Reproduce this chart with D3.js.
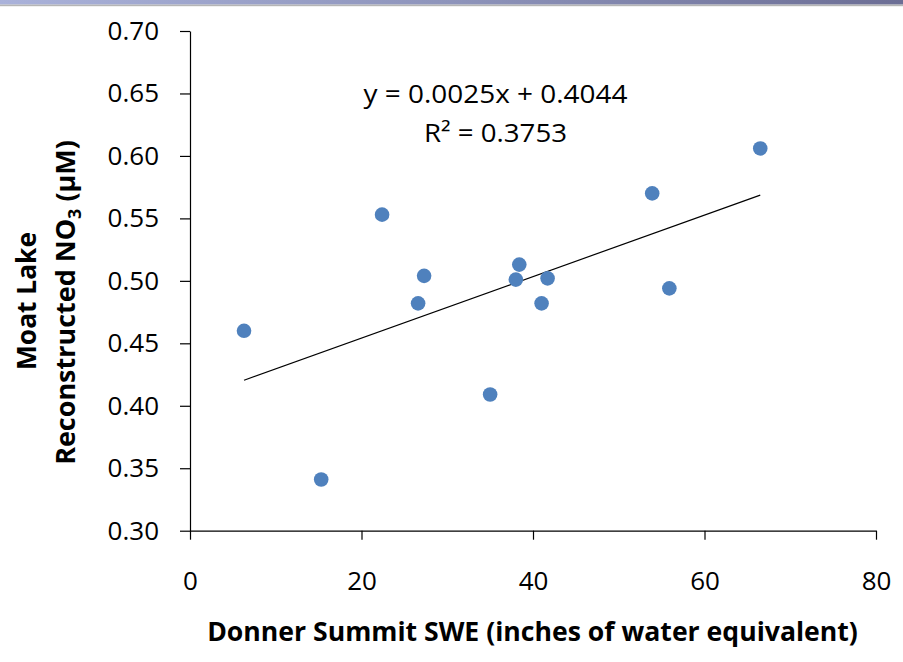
<!DOCTYPE html>
<html>
<head>
<meta charset="utf-8">
<script src="https://cdn.jsdelivr.net/npm/d3@7"></script>
<style>
  html, body { margin: 0; padding: 0; background: #fff; }
  svg { display: block; }
</style>
</head>
<body>
<svg id="chart" width="903" height="662"></svg>
<script>
// ---- data ----
const sweValues = [6.3, 15.3, 22.4, 27.3, 26.6, 35.0, 38.0, 38.4, 41.0, 41.7, 53.9, 55.9, 66.5];
const no3Values = [0.460, 0.341, 0.553, 0.504, 0.482, 0.409, 0.501, 0.513, 0.482, 0.502, 0.570, 0.494, 0.606];
const xTicks = [0, 20, 40, 60, 80];
const yTicks = [0.30, 0.35, 0.40, 0.45, 0.50, 0.55, 0.60, 0.65, 0.70];
const equationText = "y = 0.0025x + 0.4044";
const r2Label = "R² = 0.3753";
const xTitle = "Donner Summit SWE (inches of water equivalent)";
const yTitle1 = "Moat Lake";

const svg = d3.select("#chart");
const FONT = "'Open Sans', 'Liberation Sans', sans-serif";

// top banner strip
const defs = svg.append("defs");
const grad = defs.append("linearGradient").attr("id", "topgrad").attr("x1", "0%").attr("x2", "100%");
grad.append("stop").attr("offset", "0%").attr("stop-color", "#aab2da");
grad.append("stop").attr("offset", "50%").attr("stop-color", "#8e94bb");
grad.append("stop").attr("offset", "100%").attr("stop-color", "#6c6e95");
svg.append("rect").attr("x", 0).attr("y", 0).attr("width", 903).attr("height", 4.6).attr("fill", "url(#topgrad)");
svg.append("rect").attr("x", 0).attr("y", 4.6).attr("width", 903).attr("height", 1.6).attr("fill", "#b5b5b5");

const x = d3.scaleLinear().domain([0, 80]).range([190, 876]);
const y = d3.scaleLinear().domain([0.30, 0.70]).range([530.7, 31]);

// axes
const yAxis = d3.axisLeft(y).tickValues(yTicks).tickFormat(d3.format(".2f"))
  .tickSizeInner(10).tickSizeOuter(0).tickPadding(21);
const xAxis = d3.axisBottom(x).tickValues(xTicks).tickFormat(d3.format("d"))
  .tickSizeInner(9).tickSizeOuter(0).tickPadding(32);

const gy = svg.append("g").attr("transform", `translate(${x(0)},0)`).call(yAxis);
const gx = svg.append("g").attr("transform", `translate(0,${y(0.30)})`).call(xAxis);
[gx, gy].forEach(g => {
  g.attr("font-size", null).attr("font-family", null);
  g.selectAll("path.domain").attr("stroke", "#000").attr("stroke-width", 1.2);
  g.selectAll(".tick line").attr("stroke", "#000").attr("stroke-width", 1.2);
  g.selectAll(".tick text").attr("fill", "#000").style("font-family", FONT).style("font-size", "26px");
});

// trendline: least squares fit through the points
const n = sweValues.length;
const mx = d3.mean(sweValues), my = d3.mean(no3Values);
let sxy = 0, sxx = 0;
for (let i = 0; i < n; i++) { sxy += (sweValues[i] - mx) * (no3Values[i] - my); sxx += (sweValues[i] - mx) ** 2; }
const slope = sxy / sxx, intercept = my - slope * mx;
const [xmin, xmax] = d3.extent(sweValues);
svg.append("line")
  .attr("x1", x(xmin)).attr("y1", y(intercept + slope * xmin))
  .attr("x2", x(xmax)).attr("y2", y(intercept + slope * xmax))
  .attr("stroke", "#000").attr("stroke-width", 1.2);

// points
svg.append("g").selectAll("circle")
  .data(sweValues.map((v, i) => [v, no3Values[i]]))
  .join("circle")
  .attr("cx", d => x(d[0])).attr("cy", d => y(d[1]))
  .attr("r", 7.3).attr("fill", "#4f81bd");

// helper: place text centered at (cx, baseline) with width fitted to target
function fitted(parent, cx, cy, target, rotate, build, weight, size) {
  const g = parent.append("g");
  const t = g.append("text").attr("text-anchor", "middle")
    .style("font-family", FONT).style("font-size", size + "px")
    .style("font-weight", weight).attr("fill", "#000");
  build(t);
  const w = t.node().getBBox().width;
  const k = target / w;
  g.attr("transform", `translate(${cx},${cy}) rotate(${rotate}) scale(${k},1)`);
  return g;
}

// equation labels
fitted(svg, 495.5, 102.5, 264, 0, t => t.text(equationText), 400, 25);
fitted(svg, 495.5, 141.5, 143, 0, t => t.text(r2Label), 400, 25);

// x title
fitted(svg, 532.5, 641, 651, 0, t => t.text(xTitle), 700, 27);

// y title (two lines, rotated)
fitted(svg, 36, 301, 138, -90, t => t.text(yTitle1), 700, 27);
fitted(svg, 75, 302.5, 325, -90, t => {
  t.append("tspan").text("Reconstructed NO");
  t.append("tspan").text("3").attr("dy", 6).style("font-size", "18px");
  t.append("tspan").text(" (µM)").attr("dy", -6);
}, 700, 27);
</script>
</body>
</html>
